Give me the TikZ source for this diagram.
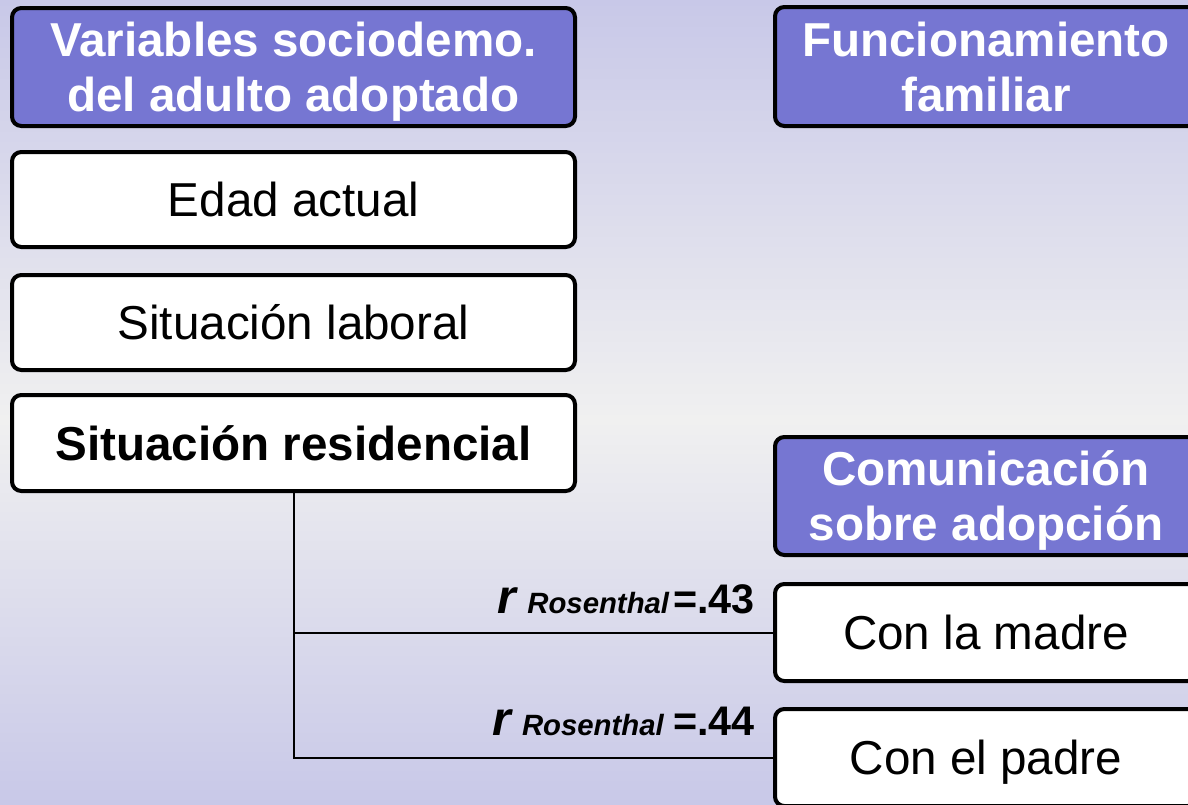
\documentclass[tikz,border=0pt]{standalone}
\usepackage{fontspec}
\setmainfont{Liberation Sans}
\definecolor{bgedge}{RGB}{200,200,232}
\definecolor{bgmid}{RGB}{240,240,240}
\definecolor{hdrfill}{RGB}{118,118,210}
\begin{document}
\begin{tikzpicture}[x=0.75pt,y=-0.75pt,
  base/.style={draw=black,line width=3pt,rounded corners=7pt,align=center,
    font=\fontsize{35.7}{41.3}\selectfont,inner sep=0pt,text height=26pt,text depth=0pt},
  hdr/.style={base,fill=hdrfill,text=white,font=\fontsize{35.7}{41.3}\selectfont\bfseries,text height=67.3pt},
  item/.style={base,fill=white,text=black},
  lw/.style={minimum width=422.25pt},
  rw/.style={minimum width=316.5pt},
  link/.style={draw=black,line width=1.5pt},
  rlab/.style={anchor=base east,inner sep=0pt,font=\bfseries}
]
\useasboundingbox (0,0) rectangle (1188,804);
\begin{scope}
\clip (0,0) rectangle (1188,804);
\shade[top color=bgedge,bottom color=bgmid] (0,0) rectangle (1188,420);
\shade[top color=bgmid,bottom color=bgedge] (0,420) rectangle (1188,804);

\node[hdr,lw,minimum height=88.5pt] (vars) at (293.5,67) {Variables sociodemo.\\del adulto adoptado};
\node[item,lw,minimum height=71.25pt] (edad) at (293.5,199.5) {Edad actual};
\node[item,lw,minimum height=71.25pt] (lab) at (293.5,322.5) {Situación laboral};
\node[item,lw,minimum height=72pt,font=\fontsize{35.7}{41.3}\selectfont\bfseries] (res) at (293.5,443) {Situación residencial};

\node[hdr,rw,minimum height=89.25pt] (func) at (986,66.5) {Funcionamiento\\familiar};
\node[hdr,rw,minimum height=88.5pt] (com) at (986,496) {Comunicación\\sobre adopción};
\node[item,rw,minimum height=72.75pt] (madre) at (986,632.5) {Con la madre};
\node[item,rw,minimum height=72.75pt] (padre) at (986,757.5) {Con el padre};

\draw[link] (res.south) |- (madre.west);
\draw[link] (res.south) |- (padre.west);

\node[rlab] (r1) at (755,613) {{\fontsize{36}{40}\selectfont\itshape r}\hspace{8pt}{\fontsize{22}{26}\selectfont\itshape Rosenthal}\hspace{3pt}{\fontsize{31}{36}\selectfont =.43}};
\node[rlab] (r2) at (755,735) {{\fontsize{36}{40}\selectfont\itshape r}\hspace{8pt}{\fontsize{22}{26}\selectfont\itshape Rosenthal}\hspace{7pt}{\fontsize{31}{36}\selectfont =.44}};
\end{scope}
\end{tikzpicture}
\end{document}
